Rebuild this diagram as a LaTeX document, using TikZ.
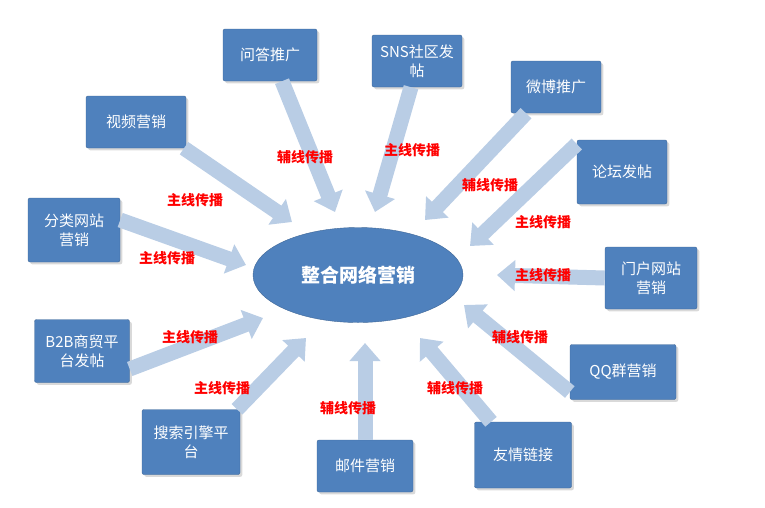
\documentclass[tikz,border=0pt]{standalone}
\usepackage{fontspec}
\setmainfont{Liberation Serif}
\newfontfamily\cjk{Noto Sans CJK SC}
\usetikzlibrary{arrows.meta,shapes.geometric,shadows}
\definecolor{boxblue}{HTML}{4F81BD}
\definecolor{arrblue}{HTML}{B9CDE5}
\tikzset{
 box/.style={draw=boxblue!80!black,fill=boxblue,text=white,minimum width=#1,minimum height=52pt,align=center,font=\cjk\fontsize{15}{19}\selectfont,inner sep=2pt,rounded corners=2pt,drop shadow={opacity=0.3}},
 box/.default=94pt,
 arr/.style={draw=arrblue,line width=15pt,-{Triangle[width=30pt,length=18pt]}},
 lab/.style={text=red,font=\cjk\bfseries\fontsize{14}{16}\selectfont}
}
\begin{document}
\begin{tikzpicture}[x=1pt,y=-1pt]
\useasboundingbox (0,0) rectangle (765,507);
\coordinate (e1) at (335,212); \coordinate (e2) at (375,212);
\coordinate (e3) at (425,220); \coordinate (e4) at (292,222);
\coordinate (e5) at (470,246); \coordinate (e6) at (246,265);
\coordinate (e7) at (497,275); \coordinate (e8) at (263,318);
\coordinate (e9) at (464,305); \coordinate (e10) at (306,338);
\coordinate (e11) at (365,343); \coordinate (e12) at (420,338);
\node[box] (wd) at (270,55) {问答推广};
\node[box=90pt] (sns) at (417,61) {SNS社区发\\帖};
\node[box=90pt] (wb) at (556,87) {微博推广};
\node[box=100pt] (sp) at (136,122) {视频营销};
\node[box=90pt,minimum height=64pt] (lt) at (622,172) {论坛发帖};
\node[box=92pt,minimum height=64pt] (fl) at (74,230) {分类网站\\营销};
\node[box=92pt,minimum height=62pt] (mh) at (651,278) {门户网站\\营销};
\node[box=95pt,minimum height=63pt] (b2b) at (82,351) {B2B商贸平\\台发帖};
\node[box=106pt,minimum height=55pt] (qq) at (623,372) {QQ群营销};
\node[box=98pt,minimum height=65pt] (ss) at (191,442) {搜索引擎平\\台};
\node[box=96pt] (yj) at (365,466) {邮件营销};
\node[box=97pt,minimum height=66pt] (yq) at (523,455) {友情链接};
\draw[arr] ([xshift=12pt]wd.south) -- (e1);
\draw[arr] ([xshift=-6pt]sns.south) -- (e2);
\draw[arr] ([xshift=-30pt]wb.south) -- (e3);
\draw[arr] ([xshift=48pt]sp.south) -- (e4);
\draw[arr] ([yshift=28pt]lt.west) -- (e5);
\draw[arr] ([yshift=10pt]fl.east) -- (e6);
\draw[arr] (mh.west) -- (e7);
\draw[arr] ([yshift=-18pt]b2b.east) -- (e8);
\draw[arr] ([yshift=-20pt]qq.west) -- (e9);
\draw[arr] ([xshift=46pt]ss.north) -- (e10);
\draw[arr] (yj.north) -- (e11);
\draw[arr] ([xshift=-32pt]yq.north) -- (e12);
\node[ellipse,fill=boxblue,draw=boxblue!80!black,minimum width=210pt,minimum height=95pt,text=white,font=\cjk\bfseries\fontsize{19}{22}\selectfont] (ell) at (358,275) {整合网络营销};
\node[lab] (l1) at (305,157) {辅线传播};
\node[lab] (l2) at (412,150) {主线传播};
\node[lab] (l3) at (490,185) {辅线传播};
\node[lab] (l4) at (195,200) {主线传播};
\node[lab] (l5) at (543,222) {主线传播};
\node[lab] (l6) at (167,258) {主线传播};
\node[lab] (l7) at (543,275) {主线传播};
\node[lab] (l8) at (190,337) {主线传播};
\node[lab] (l9) at (520,337) {辅线传播};
\node[lab] (l10) at (222,388) {主线传播};
\node[lab] (l11) at (348,408) {辅线传播};
\node[lab] (l12) at (455,388) {辅线传播};
\end{tikzpicture}
\end{document}
